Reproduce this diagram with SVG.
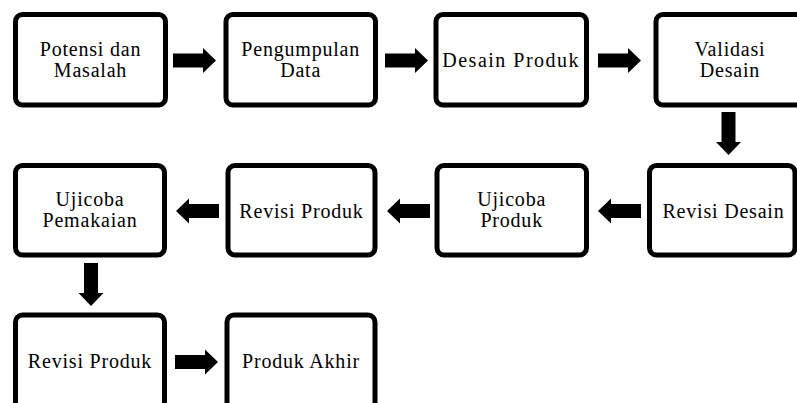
<svg xmlns="http://www.w3.org/2000/svg" xmlns:xlink="http://www.w3.org/1999/xlink" width="797" height="403" viewBox="0 0 797 403">
  <style>
    .box { fill: #ffffff; stroke: #000000; stroke-width: 5; }
    .lbl { font-size: 20px; letter-spacing: 0.8px; fill: #000000; text-anchor: middle; }
    .arr { fill: #000000; }
  </style>
  <defs>
    <path id="arrow" class="arr" d="M0,-7 H30 V-12.5 L43,0 L30,12.5 V7 H0 Z"/>
  </defs>
  <rect x="0" y="0" width="797" height="403" fill="#ffffff"/>

  <g id="connectors">
    <use xlink:href="#arrow" transform="translate(173,60.5)"/>
    <use xlink:href="#arrow" transform="translate(385,60.5)"/>
    <use xlink:href="#arrow" transform="translate(598,60.5)"/>
    <use xlink:href="#arrow" transform="translate(728.5,112) rotate(90)"/>
    <use xlink:href="#arrow" transform="translate(641,211) rotate(180)"/>
    <use xlink:href="#arrow" transform="translate(430,211) rotate(180)"/>
    <use xlink:href="#arrow" transform="translate(219,211) rotate(180)"/>
    <use xlink:href="#arrow" transform="translate(91,263) rotate(90)"/>
    <use xlink:href="#arrow" transform="translate(175,362)"/>
  </g>

  <g id="labels" font-family="'Liberation Serif', 'DejaVu Serif', serif">
  <g id="n1">
    <rect class="box" x="15.5" y="14.5" width="150" height="90.5" rx="7"/>
    <text class="lbl" x="90.5" y="56">Potensi dan</text>
    <text class="lbl" x="90.5" y="77">Masalah</text>
  </g>
  <g id="n2">
    <rect class="box" x="226" y="14.5" width="149.5" height="90.5" rx="7"/>
    <text class="lbl" x="300.7" y="56">Pengumpulan</text>
    <text class="lbl" x="300.7" y="77">Data</text>
  </g>
  <g id="n3">
    <rect class="box" x="436" y="14.5" width="150.5" height="90.5" rx="7"/>
    <text class="lbl" x="511.2" y="66.5" style="letter-spacing:1.5px">Desain Produk</text>
  </g>
  <g id="n4">
    <rect class="box" x="656" y="14.5" width="150" height="90.5" rx="7"/>
    <text class="lbl" x="730" y="56">Validasi</text>
    <text class="lbl" x="730" y="77">Desain</text>
  </g>
  <g id="n5">
    <rect class="box" x="649.5" y="165.5" width="145.5" height="89.5" rx="7"/>
    <text class="lbl" x="723.5" y="218">Revisi Desain</text>
  </g>
  <g id="n6">
    <rect class="box" x="437" y="165.5" width="149.5" height="89.5" rx="7"/>
    <text class="lbl" x="511.7" y="206">Ujicoba</text>
    <text class="lbl" x="511.7" y="227">Produk</text>
  </g>
  <g id="n7">
    <rect class="box" x="228" y="165.5" width="147" height="89.5" rx="7"/>
    <text class="lbl" x="301.5" y="218">Revisi Produk</text>
  </g>
  <g id="n8">
    <rect class="box" x="15.5" y="165.5" width="149" height="89.5" rx="7"/>
    <text class="lbl" x="90" y="206">Ujicoba</text>
    <text class="lbl" x="90" y="227">Pemakaian</text>
  </g>
  <g id="n9">
    <rect class="box" x="15.5" y="315" width="149" height="95" rx="7"/>
    <text class="lbl" x="90" y="368">Revisi Produk</text>
  </g>
  <g id="n10">
    <rect class="box" x="227" y="315" width="148" height="95" rx="7"/>
    <text class="lbl" x="301" y="368">Produk Akhir</text>
  </g>
  </g>
</svg>
